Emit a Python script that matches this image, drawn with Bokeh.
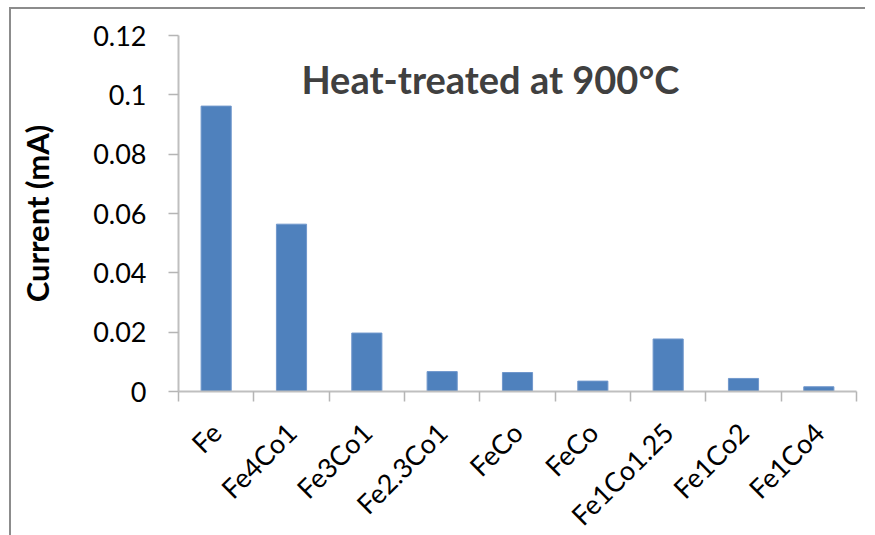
import math
from bokeh.plotting import figure
from bokeh.models import (FixedTicker, CustomJSTickFormatter, Range1d, Label, ColumnDataSource,
                          InlineStyleSheet)
from bokeh.embed import file_html
from bokeh.resources import INLINE

categories = ["Fe", "Fe4Co1", "Fe3Co1", "Fe2.3Co1", "FeCo", "FeCo", "Fe1Co1.25", "Fe1Co2", "Fe1Co4"]
current_mA = [0.0962, 0.0564, 0.0197, 0.0067, 0.0064, 0.0035, 0.0177, 0.0044, 0.0016]
y_ticks = [0, 0.02, 0.04, 0.06, 0.08, 0.1, 0.12]
title_text = "Heat-treated at 900°C"
y_label = "Current (mA)"

n = len(categories)
centers = [i + 0.5 for i in range(n)]
boundaries = list(range(n + 1))

src = ColumnDataSource(dict(x=centers, top=current_mA))

# canvas starts at (11, 9); a 2px shadow gives the chart box's left and top edges
W, H = 856, 537
p = figure(width=W, height=H, output_backend="svg", toolbar_location=None,
           x_range=Range1d(0, n), y_range=Range1d(0, 0.12),
           min_border_left=167, min_border_top=26, min_border_right=11, min_border_bottom=155)
p.stylesheets = [InlineStyleSheet(css=":host { margin-left: 11px; margin-top: 9px; "
                                      "box-shadow: -2px -2px 0px 0px #8c8c8c; }")]
p.outline_line_color = None
p.xgrid.visible = False
p.ygrid.visible = False

p.vbar(x="x", top="top", width=0.4, bottom=0, source=src,
       fill_color="#4F81BD", line_color="#7097cc", line_width=1)

font = "Lato"

# x axis: tick marks at category boundaries, names under the centres
xa = p.xaxis[0]
xa.ticker = FixedTicker(ticks=centers, minor_ticks=boundaries)
xa.major_label_overrides = {c: lab for c, lab in zip(centers, categories)}
xa.major_tick_line_color = None
xa.major_tick_out = 0
xa.major_tick_in = 0
xa.minor_tick_line_color = "#b5b5b5"
xa.minor_tick_line_width = 1.5
xa.minor_tick_out = 10
xa.minor_tick_in = 0
xa.axis_line_color = "#bfbfbf"
xa.axis_line_width = 2
xa.major_label_orientation = math.pi / 4
xa.major_label_text_font = font
xa.major_label_text_font_size = "27px"
xa.major_label_text_color = "#000000"
xa.major_label_standoff = 26

# y axis
ya = p.yaxis[0]
ya.ticker = FixedTicker(ticks=y_ticks)
ya.formatter = CustomJSTickFormatter(code="return tick.toString();")
ya.major_tick_line_color = "#b5b5b5"
ya.major_tick_line_width = 1.5
ya.major_tick_out = 10
ya.major_tick_in = 0
ya.minor_tick_line_color = None
ya.axis_line_color = "#bfbfbf"
ya.axis_line_width = 2
ya.major_label_text_font = font
ya.major_label_text_font_size = "27px"
ya.major_label_text_color = "#000000"
ya.major_label_standoff = 22
ya.axis_label = y_label
ya.axis_label_text_font = font
ya.axis_label_text_font_style = "bold"
ya.axis_label_text_font_size = "31px"
ya.axis_label_text_color = "#000000"
ya.axis_label_standoff = 34

p.add_layout(Label(x=4.14, y=0.1052, text=title_text, text_align="center",
                   text_baseline="alphabetic", text_font=font, text_font_style="bold",
                   text_font_size="38px", text_color="#404040"))

open("out.html", "w").write(file_html(p, INLINE))
